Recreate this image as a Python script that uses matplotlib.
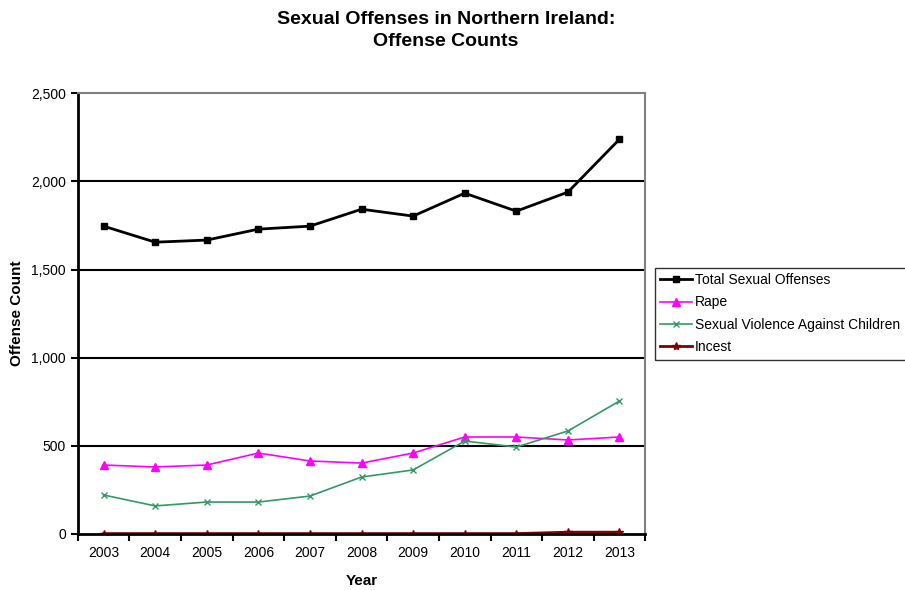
import numpy as np
import matplotlib
matplotlib.use("Agg")
from matplotlib import pyplot as plt
from matplotlib.ticker import FuncFormatter, FixedLocator

plt.rcParams['font.family'] = ['Liberation Sans', 'DejaVu Sans']

years = ['2003', '2004', '2005', '2006', '2007', '2008', '2009', '2010', '2011', '2012', '2013']
total = [1746, 1655, 1667, 1729, 1746, 1842, 1803, 1933, 1831, 1939, 2239]
rape = [391, 380, 391, 459, 414, 402, 459, 550, 550, 533, 550]
children = [221, 159, 181, 181, 215, 323, 363, 527, 493, 584, 754]
incest = [2, 2, 2, 2, 2, 2, 2, 2, 2, 10, 10]

fig = plt.figure(figsize=(9.05, 5.9), dpi=100)
ax = fig.add_axes([0.086, 0.095, 0.627, 0.747])

x = np.arange(len(years))
ax.plot(x, total, color='black', lw=2, marker='s', ms=5, label='Total Sexual Offenses')
ax.plot(x, rape, color='#ff00ff', lw=1.2, marker='^', ms=6, label='Rape')
ax.plot(x, children, color='#339966', lw=1.2, marker='x', ms=4, mew=1, label='Sexual Violence Against Children')
ax.plot(x, incest, color='#800000', lw=2, marker='*', ms=6, label='Incest')

ax.set_ylim(0, 2500)
ax.set_yticks(range(0, 2501, 500))
ax.yaxis.set_major_formatter(FuncFormatter(lambda v, p: f'{int(v):,}'))
for yv in [500, 1000, 1500, 2000]:
    ax.axhline(yv, color='black', lw=1.5, zorder=0)

ax.set_xlim(-0.5, len(years) - 0.5)
ax.set_xticks(x)
ax.set_xticklabels(years)
ax.xaxis.set_minor_locator(FixedLocator(np.arange(-0.5, len(years), 1)))
ax.tick_params(axis='x', which='major', length=0, pad=9, labelsize=10)
ax.tick_params(axis='x', which='minor', length=5, width=1.5, direction='out')
ax.tick_params(axis='y', length=5, width=1.5, direction='out', labelsize=10)

ax.spines['left'].set_linewidth(2)
ax.spines['bottom'].set_linewidth(2)
ax.spines['top'].set_color('#808080')
ax.spines['right'].set_color('#808080')
ax.spines['top'].set_linewidth(1.5)
ax.spines['right'].set_linewidth(1.5)

ax.set_xlabel('Year', fontsize=11, fontweight='bold', labelpad=10)
ax.set_ylabel('Offense Count', fontsize=11, fontweight='bold', labelpad=5)

fig.text(0.493, 1 - 19 / 590, 'Sexual Offenses in Northern Ireland:',
         ha='center', va='center', fontsize=14, fontweight='bold')
fig.text(0.493, 1 - 42 / 590, 'Offense Counts',
         ha='center', va='center', fontsize=14, fontweight='bold')

leg = ax.legend(loc='center left', bbox_to_anchor=(1.017, 0.5), frameon=True,
                fancybox=False, fontsize=10, handlelength=2.3, handletextpad=0.2,
                borderpad=0.4, labelspacing=0.6, borderaxespad=0)
leg.get_frame().set_edgecolor('black')
leg.get_frame().set_linewidth(1)

fig.savefig('out.png', dpi=100)
